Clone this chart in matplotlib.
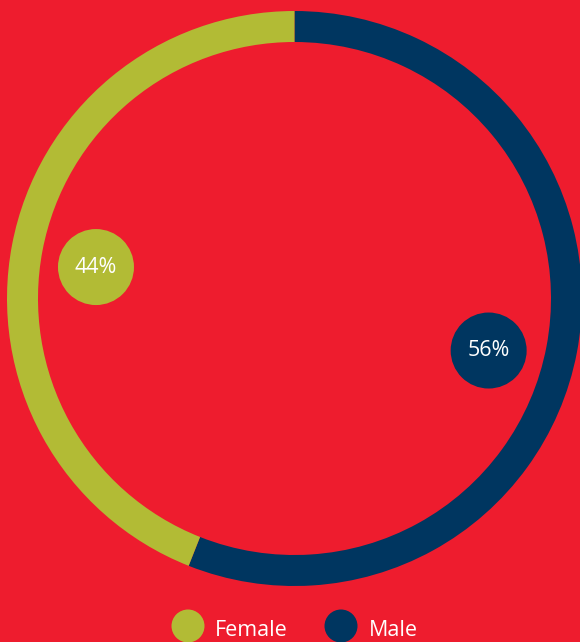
import matplotlib
matplotlib.use("Agg")
import matplotlib.pyplot as plt
from matplotlib.patches import Circle
import numpy as np

# Data
categories = ["Male", "Female"]
shares = [56, 44]
labels = ["56%", "44%"]
colors = ["#003660", "#B2BB35"]
legend_order = ["Female", "Male"]

BG = "#EE1C2E"
FONT = ["Open Sans", "DejaVu Sans"]

W, H = 580, 642
fig = plt.figure(figsize=(W / 100, H / 100), dpi=100, facecolor=BG)
ax = fig.add_axes([0, 0, 1, 1])
ax.set_facecolor(BG)

# Ring geometry in pixel units (y up)
cx, cy = 294.5, H - 298.5
R, ring_w = 287.5, 31

ax.pie(shares, colors=colors, startangle=90, counterclock=False,
       radius=R, center=(cx, cy),
       wedgeprops=dict(width=ring_w, linewidth=0))

# Value badges placed near each slice's middle
badge_r = 38
badge_dist = 201
badge_angles = {"Male": 105, "Female": 279}  # degrees clockwise from top
for cat, lab, col in zip(categories, labels, colors):
    a = np.deg2rad(badge_angles[cat])
    bx = cx + badge_dist * np.sin(a)
    by = cy + badge_dist * np.cos(a)
    ax.add_patch(Circle((bx, by), badge_r, facecolor=col, edgecolor="none", zorder=3))
    ax.text(bx, by, lab, color="white", fontsize=15.5, family=FONT,
            fontweight="normal", ha="center", va="center", zorder=4)

# Legend along the bottom
leg_y = H - 626
leg_items = {"Female": (188, 215), "Male": (341, 369)}
col_map = dict(zip(categories, colors))
for name in legend_order:
    mx, tx = leg_items[name]
    ax.add_patch(Circle((mx, leg_y), 16.5, facecolor=col_map[name], edgecolor="none"))
    ax.text(tx, leg_y - 1.5, name, color="white", fontsize=15.5, family=FONT,
            fontweight="normal", ha="left", va="center_baseline")

ax.set_xlim(0, W)
ax.set_ylim(0, H)
ax.set_aspect("equal")
ax.axis("off")

fig.savefig("out.png", dpi=100, facecolor=BG)
